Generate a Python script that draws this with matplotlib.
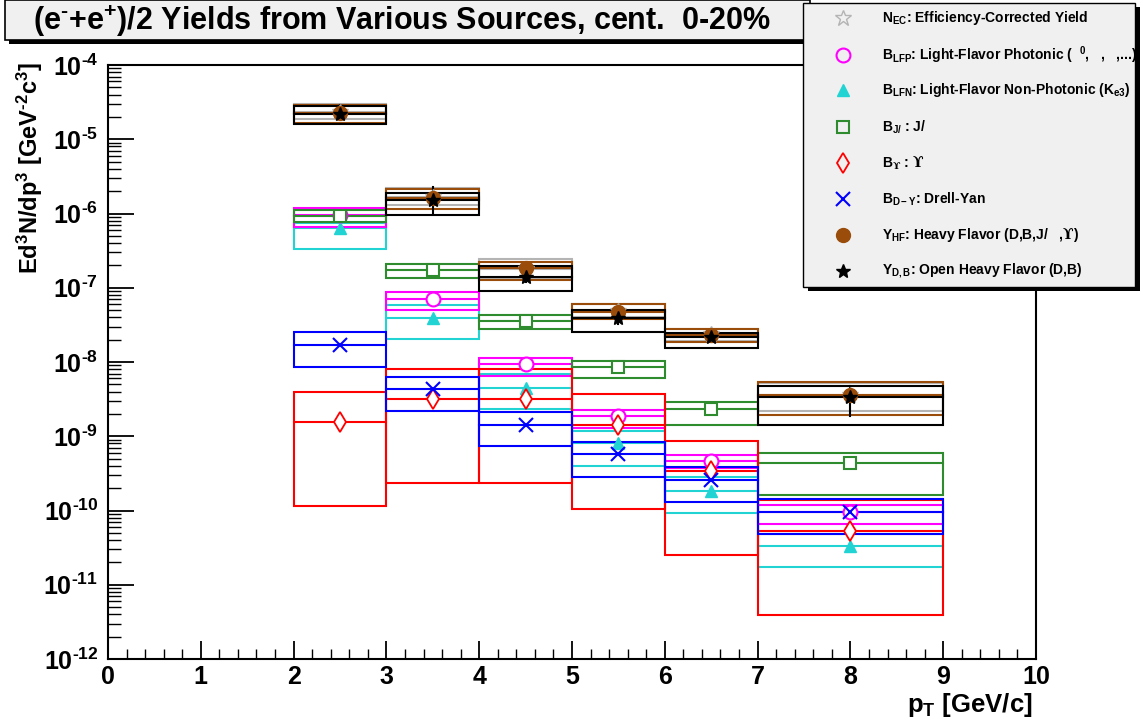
import matplotlib
matplotlib.use('Agg')
import matplotlib.pyplot as plt
from matplotlib.patches import Rectangle
from matplotlib.lines import Line2D
from matplotlib.ticker import FuncFormatter, FixedLocator, LogLocator, MultipleLocator
import numpy as np

plt.rcParams.update({
    'font.family': ['Liberation Sans', 'DejaVu Sans'],
    'font.weight': 'bold',
    'mathtext.fontset': 'custom',
    'mathtext.rm': 'Liberation Sans:bold',
    'mathtext.bf': 'Liberation Sans:bold',
    'mathtext.it': 'Liberation Sans:bold',
    'mathtext.sf': 'DejaVu Serif',
    'mathtext.default': 'rm',
    'mathtext.fallback': 'stix',
})

HYPH = '\u2010'

# pT bins
bin_lo = [2, 3, 4, 5, 6, 7]
bin_hi = [3, 4, 5, 6, 7, 9]
pt_mid = [2.5, 3.5, 4.5, 5.5, 6.5, 8.0]

# N_EC efficiency-corrected yield
ec_val = [2.3e-5, 1.65e-6, 1.8e-7, 4.9e-8, 2.35e-8, 3.6e-9]
ec_hi = [3.0e-5, 2.2e-6, 2.44e-7, 6.1e-8, 2.8e-8, 5.2e-9]
ec_lo = [1.9e-5, 1.3e-6, 1.3e-7, 4.0e-8, 1.9e-8, 2.2e-9]
# B_LFP light-flavor photonic
lfp_val = [9.55e-7, 7.05e-8, 9.4e-9, 1.87e-9, 4.69e-10, 9.64e-11]
lfp_hi = [1.175e-6, 8.7e-8, 1.14e-8, 2.26e-9, 5.59e-10, 1.19e-10]
lfp_lo = [6.64e-7, 5.0e-8, 6.5e-9, 1.28e-9, 3.7e-10, 6.52e-11]
# B_LFN light-flavor non-photonic
lfn_val = [6.44e-7, 3.88e-8, 4.5e-9, 8.0e-10, 1.83e-10, 3.36e-11]
lfn_hi = [7.45e-7, 5.86e-8, 6.9e-9, 1.18e-9, 2.8e-10, 4.9e-11]
lfn_lo = [3.3e-7, 2.02e-8, 2.3e-9, 3.97e-10, 9.33e-11, 1.72e-11]
# B_J/psi
jpsi_val = [9.25e-7, 1.73e-7, 3.6e-8, 8.49e-9, 2.31e-9, 4.4e-10]
jpsi_hi = [1.11e-6, 2.07e-7, 4.3e-8, 1.04e-8, 2.92e-9, 6.0e-10]
jpsi_lo = [7.6e-7, 1.34e-7, 2.75e-8, 6.15e-9, 1.42e-9, 1.62e-10]
# B_Upsilon
ups_val = [1.57e-9, 3.17e-9, 3.17e-9, 1.42e-9, 3.44e-10, 5.35e-11]
ups_hi = [3.98e-9, 7.97e-9, 8.05e-9, 3.7e-9, 8.63e-10, 1.38e-10]
ups_lo = [1.15e-10, 2.32e-10, 2.37e-10, 1.06e-10, 2.52e-11, 3.92e-12]
# B_D-Y Drell-Yan
dy_val = [1.69e-8, 4.33e-9, 1.43e-9, 5.77e-10, 2.58e-10, 9.64e-11]
dy_hi = [2.51e-8, 6.34e-9, 2.14e-9, 8.45e-10, 3.82e-10, 1.43e-10]
dy_lo = [8.5e-9, 2.19e-9, 7.4e-10, 2.85e-10, 1.29e-10, 4.83e-11]
# Y_HF heavy flavor
hf_val = [2.24e-5, 1.60e-6, 1.83e-7, 4.75e-8, 2.31e-8, 3.6e-9]
hf_hi = [2.89e-5, 2.12e-6, 2.24e-7, 6.04e-8, 2.75e-8, 5.43e-9]
hf_lo = [1.68e-5, 1.15e-6, 1.27e-7, 3.76e-8, 1.88e-8, 1.93e-9]
# Y_D,B open heavy flavor
db_val = [2.2e-5, 1.52e-6, 1.41e-7, 3.88e-8, 2.15e-8, 3.35e-9]
db_hi = [2.8e-5, 1.9e-6, 1.96e-7, 5.0e-8, 2.46e-8, 4.75e-9]
db_lo = [1.59e-5, 9.45e-7, 8.95e-8, 2.56e-8, 1.56e-8, 1.42e-9]
db_stat_hi = [2.9e-5, 2.25e-6, 1.6e-7, 4.3e-8, 2.35e-8, 4.7e-9]
db_stat_lo = [1.9e-5, 1.0e-6, 1.2e-7, 3.3e-8, 1.95e-8, 1.9e-9]

y_decades = [-12, -11, -10, -9, -8, -7, -6, -5, -4]

C_GREY = '#b4b4b4'
C_MAG = '#ff00ff'
C_CYAN = '#22d3d3'
C_GREEN = '#2e8b2e'
C_RED = '#ff0000'
C_BLUE = '#0000ff'
C_BROWN = '#9a4c0a'
C_BLACK = '#000000'

W, H = 1144, 725
fig = plt.figure(figsize=(W / 100, H / 100), dpi=100)
ax = fig.add_axes([108 / W, 1 - 659 / H, (1036 - 108) / W, (659 - 65) / H])
ax.set_yscale('log')
ax.set_xlim(0, 10)
ax.set_ylim(1e-12, 1e-4)


def draw_boxes(val, hi, lo, color, lw=1.5):
    for i in range(len(val)):
        ax.add_patch(Rectangle((bin_lo[i], lo[i]), bin_hi[i] - bin_lo[i], hi[i] - lo[i],
                               fill=False, edgecolor=color, lw=lw, zorder=2))
        ax.plot([bin_lo[i], bin_hi[i]], [val[i], val[i]], color=color, lw=lw, zorder=2)


draw_boxes(lfn_val, lfn_hi, lfn_lo, C_CYAN)
draw_boxes(lfp_val, lfp_hi, lfp_lo, C_MAG)
draw_boxes(jpsi_val, jpsi_hi, jpsi_lo, C_GREEN)
draw_boxes(ups_val, ups_hi, ups_lo, C_RED)
draw_boxes(dy_val, dy_hi, dy_lo, C_BLUE)
draw_boxes(ec_val, ec_hi, ec_lo, C_GREY)
draw_boxes(hf_val, hf_hi, hf_lo, C_BROWN)
draw_boxes(db_val, db_hi, db_lo, C_BLACK)

# stat error bars of the open heavy flavor yield
for i in range(len(db_val)):
    ax.plot([pt_mid[i], pt_mid[i]], [db_stat_lo[i], db_stat_hi[i]], color=C_BLACK, lw=1.5, zorder=3)

ax.plot(pt_mid, lfn_val, '^', ms=9, color=C_CYAN, ls='none', zorder=4)
ax.plot(pt_mid, lfp_val, 'o', ms=10, mfc='white', mec=C_MAG, mew=1.5, ls='none', zorder=4)
ax.plot(pt_mid, jpsi_val, 's', ms=9, mfc='white', mec=C_GREEN, mew=1.5, ls='none', zorder=4)
ax.plot(pt_mid, ups_val, 'd', ms=10, mfc='white', mec=C_RED, mew=1.3, ls='none', zorder=4)
ax.plot(pt_mid, dy_val, 'x', ms=10, color=C_BLUE, mew=1.5, ls='none', zorder=4)
ax.plot(pt_mid, ec_val, '*', ms=12, mfc='none', mec=C_GREY, mew=1.0, ls='none', zorder=4)
ax.plot(pt_mid, hf_val, 'o', ms=10, color=C_BROWN, ls='none', zorder=5)
ax.plot(pt_mid, db_val, '*', ms=10, color=C_BLACK, ls='none', zorder=6)

# axes style (ROOT like)
for s in ax.spines.values():
    s.set_linewidth(1.5)
ax.xaxis.set_major_locator(MultipleLocator(1))
ax.xaxis.set_minor_locator(MultipleLocator(0.2))
ax.yaxis.set_major_locator(FixedLocator([10.0 ** d for d in y_decades]))
ax.yaxis.set_minor_locator(LogLocator(base=10, subs=np.arange(2, 10), numticks=20))
ax.yaxis.set_major_formatter(FuncFormatter(lambda v, p: '$10^{' + HYPH + '%d}$' % abs(round(np.log10(v)))))
ax.yaxis.set_minor_formatter(FuncFormatter(lambda v, p: ''))
ax.xaxis.set_major_formatter(FuncFormatter(lambda v, p: '%d' % v))
ax.tick_params(axis='y', which='major', direction='in', length=19, width=1.3, labelsize=18, pad=7,
               right=False)
ax.tick_params(axis='y', which='minor', direction='in', length=9.5, width=1.0, right=False)
ax.tick_params(axis='x', which='major', direction='in', length=13, width=1.3, labelsize=18, pad=4,
               top=False)
ax.tick_params(axis='x', which='minor', direction='in', length=7, width=1.0, top=False)
for lab in ax.get_xticklabels() + ax.get_yticklabels():
    lab.set_fontweight('bold')

fig.text(30 / W, 1 - 62 / H, 'Ed$^{3}$N/dp$^{3}$ [GeV$^{' + HYPH + '2}$c$^{3}$]', rotation=90,
         ha='center', va='top', fontsize=17)
fig.text(1033 / W, 1 - 705 / H, r'p$_{T}$ [GeV/c]', ha='right', va='center', fontsize=18.5)


def px_rect(x0, y0, x1, y1, **kw):
    r = Rectangle((x0 / W, 1 - y1 / H), (x1 - x0) / W, (y1 - y0) / H,
                  transform=fig.transFigure, **kw)
    fig.add_artist(r)


# title box
px_rect(9, 4, 814, 44, facecolor='black', edgecolor='none', zorder=10)
px_rect(5, 0, 810, 40, facecolor='#f0f0f0', edgecolor='black', lw=1.2, zorder=11)
fig.text(402 / W, 1 - 21 / H, '(e$^{' + HYPH + '}$+e$^{+}$)/2 Yields from Various Sources, cent.  0-20%',
         ha='center', va='center', fontsize=22, zorder=12)

# legend box
px_rect(808, 7, 1140, 291, facecolor='black', edgecolor='none', zorder=13)
px_rect(803, 3, 1135, 287, facecolor='#f0f0f0', edgecolor='black', lw=1.0, zorder=14)

leg_y = [18, 55, 90, 127, 163, 199, 235, 271]
leg_txt = [
    r'N$_{\mathregular{EC}}$: Efficiency-Corrected Yield',
    r'B$_{\mathregular{LFP}}$: Light-Flavor Photonic (  $^{0}$,   ,   ,...)',
    r'B$_{\mathregular{LFN}}$: Light-Flavor Non-Photonic (K$_{\mathregular{e3}}$)',
    r'B$_{\mathregular{J/}}$ : J/',
    r'B$_{\mathsf{ϒ}}$ : $\mathsf{ϒ}$',
    r'B$_{\mathregular{D-Y}}$: Drell-Yan',
    r'Y$_{\mathregular{HF}}$: Heavy Flavor (D,B,J/   ,$\mathsf{ϒ}$)',
    r'Y$_{\mathregular{D,B}}$: Open Heavy Flavor (D,B)',
]
leg_style = [
    dict(marker='*', ms=12, mfc='none', mec=C_GREY, mew=1.0),
    dict(marker='o', ms=10, mfc='none', mec=C_MAG, mew=1.5),
    dict(marker='^', ms=9, color=C_CYAN),
    dict(marker='s', ms=9, mfc='none', mec=C_GREEN, mew=1.5),
    dict(marker='d', ms=10, mfc='none', mec=C_RED, mew=1.3),
    dict(marker='x', ms=10, color=C_BLUE, mew=1.5),
    dict(marker='o', ms=10, color=C_BROWN),
    dict(marker='*', ms=10, color=C_BLACK),
]
for y, t, st in zip(leg_y, leg_txt, leg_style):
    fig.add_artist(Line2D([843 / W], [1 - y / H], ls='none', transform=fig.transFigure,
                          zorder=15, **st))
    fig.text(882 / W, 1 - y / H, t, ha='left', va='center', fontsize=10, zorder=15)

fig.savefig('out.png', dpi=100)
